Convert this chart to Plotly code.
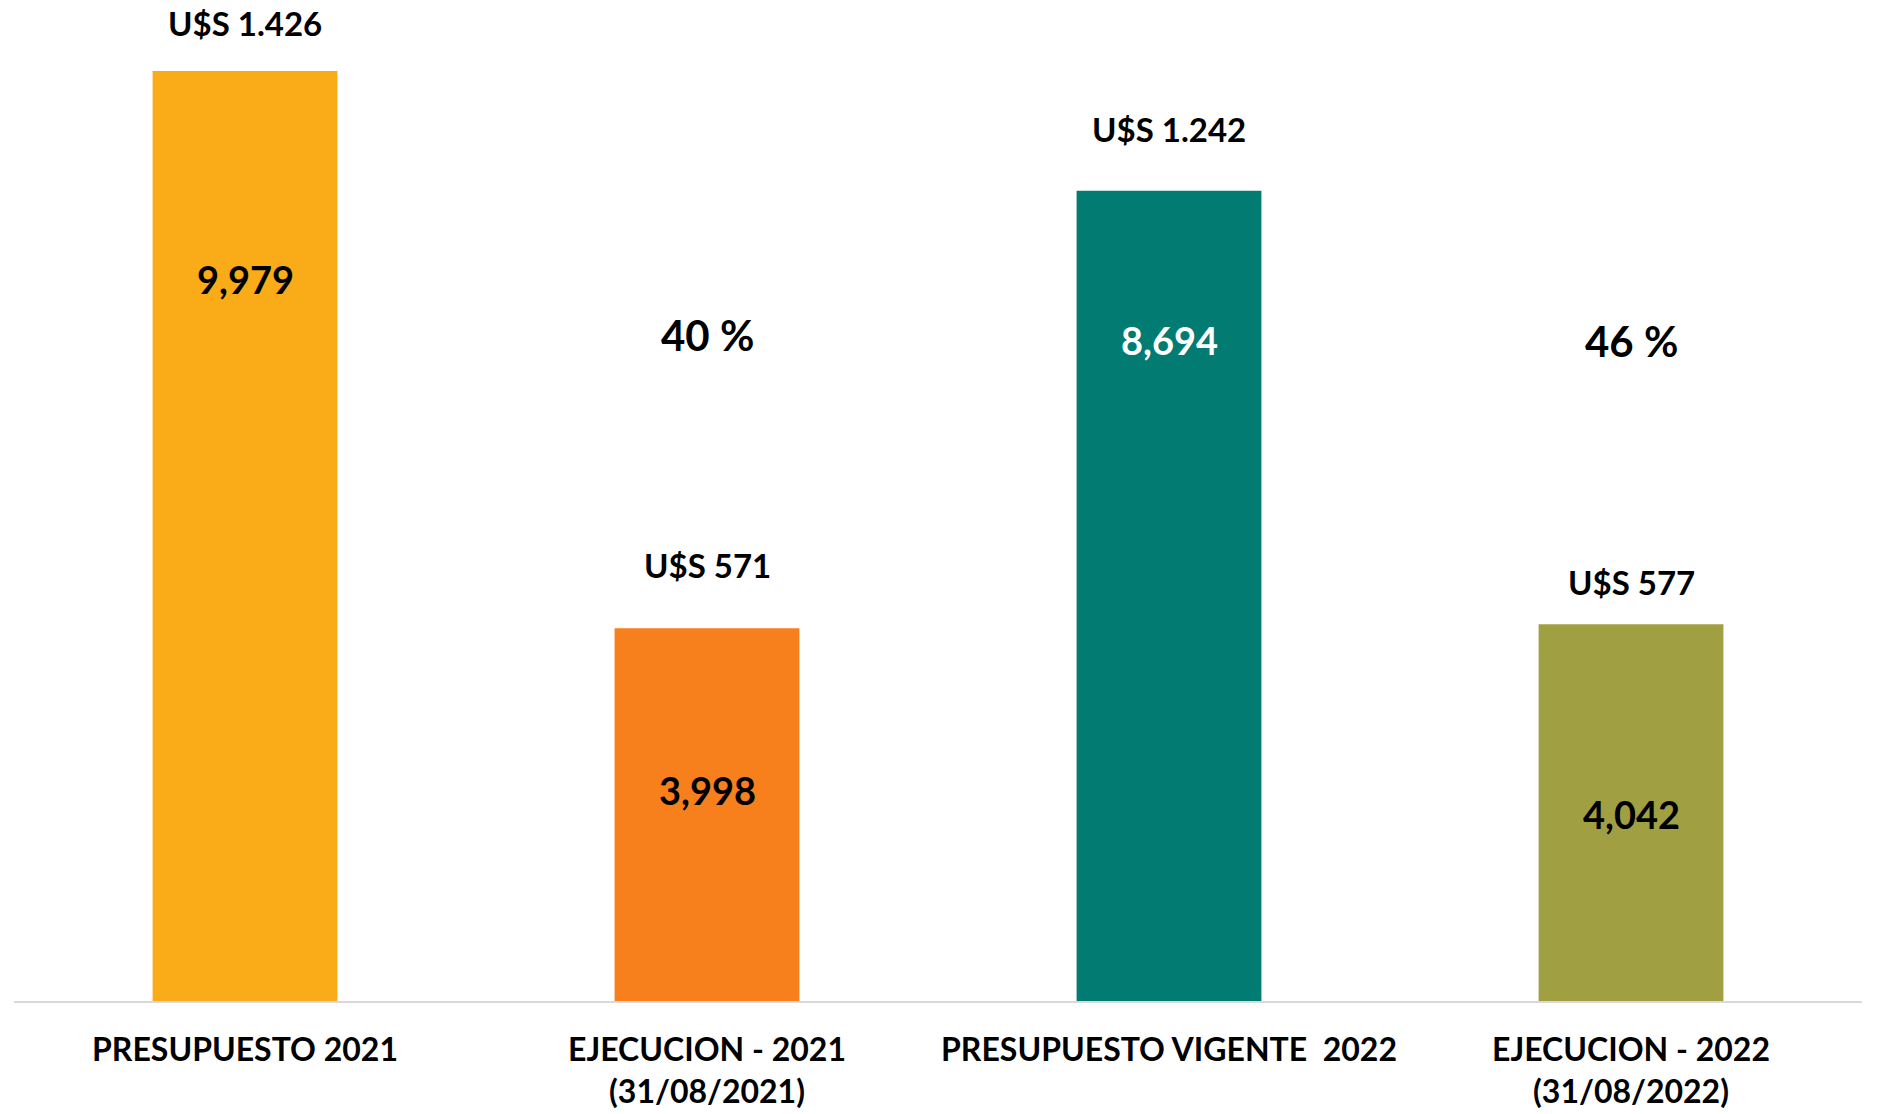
import plotly.graph_objects as go

categories = ["PRESUPUESTO 2021", "EJECUCION - 2021<br>(31/08/2021)",
              "PRESUPUESTO VIGENTE  2022", "EJECUCION - 2022<br>(31/08/2022)"]
values = [9979, 3998, 8694, 4042]
usd_labels = ["U$S 1.426", "U$S 571", "U$S 1.242", "U$S 577"]
pct_labels = ["", "40 %", "", "46 %"]

colors = ["#F9AB18", "#F77F1C", "#027B73", "#A0A043"]
inner_font_colors = ["black", "black", "white", "black"]
usd_shift = [48, 63, 62, 42]
inner_shift = [-208, -162, -149, -190]
pct_shift = [0, 293, 0, 283]

FONT = "Lato"

fig = go.Figure(go.Bar(
    x=categories,
    y=values,
    marker=dict(color=colors, line=dict(width=0)),
    hoverinfo="skip",
))

for cat, val, usd, pct, fc, us, ins, ps in zip(categories, values, usd_labels, pct_labels,
                                              inner_font_colors, usd_shift, inner_shift, pct_shift):
    fig.add_annotation(x=cat, y=val, text=f"<b>{usd}</b>", showarrow=False,
                       yanchor="middle", yshift=us,
                       font=dict(family=FONT, size=33, color="black"))
    fig.add_annotation(x=cat, y=val, text=f"<b>{val:,}</b>", showarrow=False,
                       yanchor="middle", yshift=ins,
                       font=dict(family=FONT, size=38, color=fc))
    if pct:
        fig.add_annotation(x=cat, y=val, text=f"<b>{pct}</b>", showarrow=False,
                           yanchor="middle", yshift=ps,
                           font=dict(family=FONT, size=42, color="black"))

# the page body adds an 8px offset, so margins are pulled in to compensate
fig.update_layout(
    width=1880, height=1114,
    margin=dict(l=6, r=26, t=0, b=121),
    paper_bgcolor="white", plot_bgcolor="white",
    bargap=0.6,
    showlegend=False,
    font=dict(family=FONT),
)
fig.update_xaxes(
    tickfont=dict(family=FONT, size=32, color="black"),
    tickprefix="<b>", ticksuffix="</b>",
    showline=True, linecolor="#D9D9D9", linewidth=2,
    ticks="", ticklabelstandoff=20, automargin=False,
)
fig.update_yaxes(range=[0, 10654], visible=False, showgrid=False, zeroline=False)

fig.write_html("out.html")
